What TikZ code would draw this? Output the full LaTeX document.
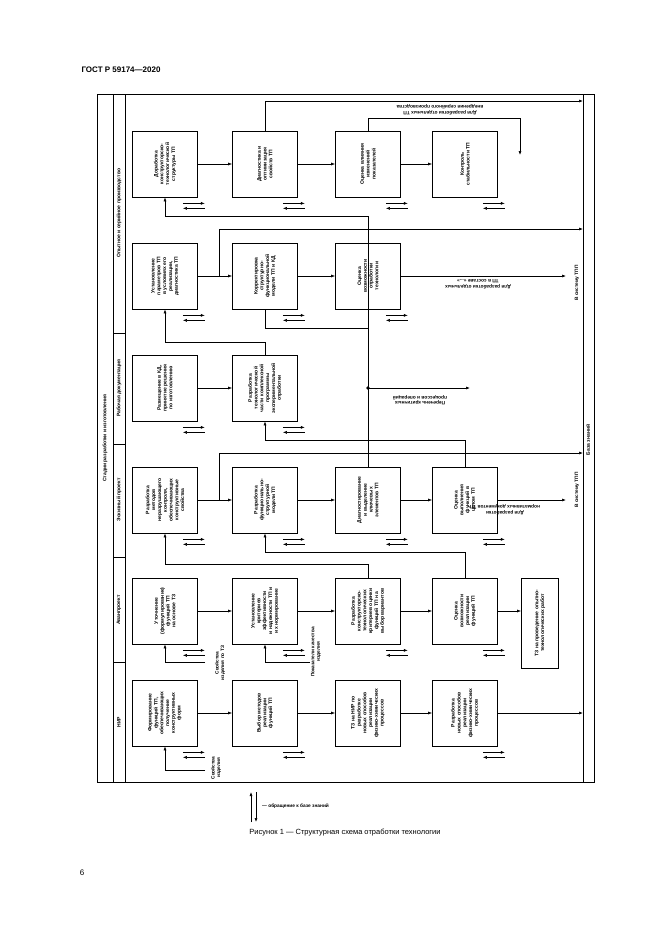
\documentclass[tikz,border=0pt]{standalone}
\usepackage{fontspec}
\setmainfont{Liberation Sans}
\usetikzlibrary{arrows.meta,calc}
\begin{document}
\begin{tikzpicture}[x=1pt,y=-1pt,
 ln/.style={line width=0.6pt},
 arr/.style={ln,-{Latex[length=4pt,width=3pt]}},
 box/.style={draw,line width=0.7pt,minimum width=65pt,minimum height=66pt,inner sep=0pt},
 txt/.style={rotate=90,text width=50pt,align=center,font=\fontsize{5}{5.8}\selectfont\bfseries,inner sep=0pt},
 lab/.style={align=center,font=\fontsize{4.8}{5.6}\selectfont\bfseries,inner sep=0pt},
 stg/.style={rotate=90,font=\fontsize{5}{6}\selectfont\bfseries,inner sep=0pt}]
\useasboundingbox (0,0) rectangle (661,935);
\node[font=\bfseries\fontsize{8}{10}\selectfont,anchor=west] (hdr) at (78,70) {ГОСТ Р 59174—2020};
\node[font=\fontsize{7.5}{9}\selectfont] (cap) at (345,833) {Рисунок 1 — Структурная схема отработки технологии};
\node[font=\fontsize{8}{10}\selectfont] (pg) at (82,873) {6};
% frame
\draw[line width=0.8pt] (97,94) rectangle (594,782);
\draw[ln] (113,94) -- (113,782);
\draw[ln] (125,94) -- (125,782);
\draw[ln] (583,94) -- (583,782);
\foreach \yy in {333,444,557,662} \draw[ln] (113,\yy) -- (125,\yy);
\node[stg] (st) at (105,438) {Стадии разработки и изготовления};
\node[stg] (s1) at (119,213) {Опытное и серийное производство};
\node[stg] (s2) at (119,388) {Рабочая документация};
\node[stg] (s3) at (119,500) {Эскизный проект};
\node[stg] (s4) at (119,610) {Аванпроект};
\node[stg] (s5) at (119,722) {НИР};
\node[stg] (bz) at (588,440) {База знаний};
% boxes
\newcommand{\bx}[3]{\node[box] (#1) at (#2) {}; \node[txt] at (#1) {#3};}
\bx{r1c1}{165,164}{Доработка конструкторско-технологической структуры ТП}
\bx{r1c2}{265,164}{Диагностика и оптимизация свойств ТП}
\bx{r1c3}{368,164}{Оценка влияния изменений показателей}
\bx{r1c4}{465,164}{Контроль стабильности ТП}
\bx{r2c1}{165,276}{Установление параметров ТП в условиях его реализации, диагностика ТП}
\bx{r2c2}{265,276}{Корректировка структурно-функциональной модели ТП и КД}
\bx{r2c3}{368,276}{Оценка возможности отработки технологии}
\bx{r3c1}{165,388}{Размещение в КД, принятие решения по изготовлению}
\bx{r3c2}{265,388}{Разработка технологической части комплексной программы экспериментальной отработки}
\bx{r4c1}{165,500}{Разработка методов неразрушающего контроля, обеспечивающих конструктивные свойства}
\bx{r4c2}{265,500}{Разработка функционально-структурной модели ТП}
\bx{r4c3}{368,500}{Диагностирование и выделение ключевых элементов ТП}
\bx{r4c4}{465,500}{Оценка выполнения функций в целом ТП}
\bx{r5c1}{165,611}{Уточнение (формулирование) функций ТП на основе ТЗ}
\bx{r5c2}{265,611}{Установление критериев эффективности и надежности ТП и их нормирование}
\bx{r5c3}{368,611}{Разработка конструкторско-технологических критериев оценки функций ТП на выбор вариантов}
\bx{r5c4}{465,611}{Оценка возможности реализации функций ТП}
\node[box,minimum width=37pt,minimum height=90pt] (r5c5) at (540,623) {};
\node[txt,text width=80pt] at (r5c5) {ТЗ на проведение опытно-технологических работ};
\bx{r6c1}{165,713}{Формирование функций ТП, обеспечивающих получение конструктивных форм}
\bx{r6c2}{265,713}{Выбор методов реализации функций ТП}
\bx{r6c3}{368,713}{ТЗ на НИР по разработке новых способов реализации физико-химических процессов}
\bx{r6c4}{465,713}{Разработка новых способов реализации физико-химических процессов}
% knowledge-base pairs
\newcommand{\kb}[1]{\draw[arr] ($(#1.south east)+(-15,6)$) -- ++(22,0); \draw[arr] ($(#1.south east)+(7,11)$) -- ++(-22,0);}
\foreach \n in {r1c1,r1c2,r1c3,r1c4,r2c1,r2c2,r2c3,r3c1,r3c2,r4c1,r4c2,r4c3,r4c4,r5c1,r5c2,r5c3,r5c4,r6c1,r6c2,r6c4} {\kb{\n}}
% row arrows
\draw[arr] (r1c1) -- (r1c2); \draw[arr] (r1c2) -- (r1c3); \draw[arr] (r1c3) -- (r1c4);
\draw[arr] (r2c1) -- (r2c2); \draw[arr] (r2c2) -- (r2c3);
\draw[arr] (r3c1) -- (r3c2);
\draw[arr] (r4c1) -- (r4c2); \draw[arr] (r4c2) -- (r4c3); \draw[arr] (r4c3) -- (r4c4);
\draw[arr] (r5c1) -- (r5c2); \draw[arr] (r5c2) -- (r5c3); \draw[arr] (r5c3) -- (r5c4);
\draw[arr] (r5c4.east) -- (r5c4.east -| r5c5.west);
\draw[arr] (r6c1) -- (r6c2); \draw[arr] (r6c2) -- (r6c3); \draw[arr] (r6c3) -- (r6c4);
% outputs
\coordinate (o1) at (583,101); \coordinate (o2) at (583,229); \coordinate (o4) at (583,453);
\coordinate (o6) at (583,713); \coordinate (t2) at (566,276); \coordinate (t4) at (566,500);
\coordinate (d1) at (520,155);
\draw[arr] (r1c2.north) |- (o1);
\draw[arr] (r1c3.north) |- (520,118) -- (d1);
\draw[arr] (r2c3) -- (t2);
\draw[arr] (r4c4) -- (t4);
\draw[arr] (r6c4) -- (o6);
\draw[arr] (219,276) |- (o2);
\draw[arr] (219,500) |- (o4);
% feedback loops
\draw[arr] (r4c3.north) -- (368,216) -| (r1c1.south);
\draw[ln] (r2c2.south) |- (368,328);
\draw[arr] (r3c2.north) |- (165,342) -- (r2c1.south);
\draw[arr] (r4c4.north) |- (265,440) -- (r3c2.south);
\draw[arr] (r5c3.north) |- (165,564) -- (r4c1.south);
\draw[arr] (r5c4.north) |- (265,552) -- (r4c2.south);
\fill (368,388) circle (1.8);
\coordinate (pk) at (470,388);
\draw[arr] (368,388) -- (pk);
\draw[arr] (205,662) -| (r5c1.south);
\draw[arr] (310,662) -| (r5c2.south);
\draw[arr] (205,770) -| (r6c1.south);
% labels
\node[lab,rotate=180] (l1) at (440,110) {Для разработки отдельных ТП\\внедрения серийного производства};
\node[lab,rotate=180] (l2) at (478,284) {Для разработки отдельных\\ТП в составе «...»};
\node[lab,rotate=180] (l3) at (420,400) {Перечень критичных\\процессов и операций};
\node[lab,rotate=180] (l4) at (505,510) {Для разработки\\нормативных документов ТП};
\node[stg,font=\fontsize{4.8}{5.6}\selectfont\bfseries] (v1) at (577,283) {В систему ТПП};
\node[stg,font=\fontsize{4.8}{5.6}\selectfont\bfseries] (v2) at (577,490) {В систему ТПП};
\node[lab,rotate=90] (p1) at (220,663) {Свойства\\изделия по ТЗ};
\node[lab,rotate=90] (p2) at (316,652) {Показатели качества\\изделия};
\node[lab,rotate=90] (p3) at (216,768) {Свойства\\изделия};
% legend
\draw[arr] (251,822) -- (251,792);
\draw[arr] (256,792) -- (256,822);
\node[lab,anchor=west] (lg) at (262,806) {— обращение к базе знаний};
\end{tikzpicture}
\end{document}
